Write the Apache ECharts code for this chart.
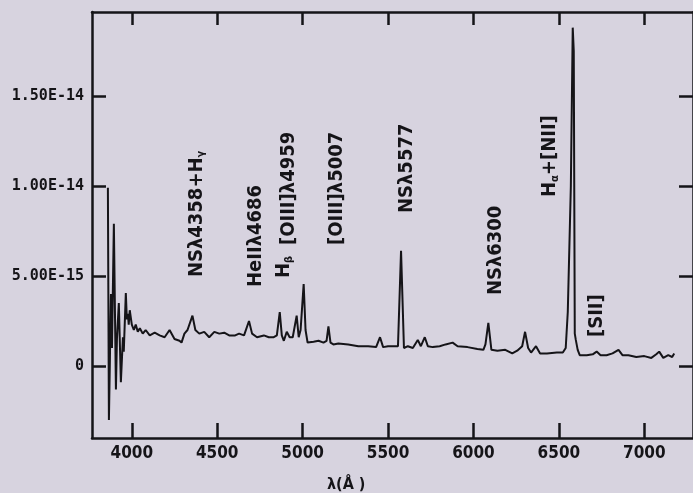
<!DOCTYPE html>
<html>
<head>
<meta charset="utf-8">
<script src="https://cdn.jsdelivr.net/npm/echarts@6/dist/echarts.min.js"></script>
<style>
html,body{margin:0;padding:0;background:#d7d3df;}
#chart{width:693px;height:493px;}
</style>
</head>
<body>
<div id="chart"></div>
<script>
// Wavelength (Angstrom)
var lambda = [3860,3866,3872,3878,3884,3895,3907,3913,3924,3936,3948,3953,3965,3971,3977,3982,3988,4000,4012,4023,4035,4047,4064,4081,4105,4134,4163,4192,4221,4250,4279,4291,4308,4326,4355,4372,4395,4424,4453,4483,4512,4541,4570,4605,4628,4657,4686,4704,4733,4773,4802,4831,4849,4866,4878,4890,4907,4924,4942,4965,4977,4988,5006,5017,5029,5064,5093,5122,5140,5151,5163,5180,5209,5267,5326,5384,5430,5453,5471,5500,5529,5558,5576,5593,5616,5645,5674,5692,5715,5733,5762,5802,5837,5878,5907,5965,6023,6058,6070,6087,6105,6140,6186,6227,6256,6285,6302,6320,6337,6366,6390,6430,6488,6523,6540,6552,6570,6581,6587,6593,6599,6610,6622,6663,6698,6721,6744,6779,6814,6849,6872,6907,6953,7000,7041,7070,7087,7111,7140,7163,7175];
// Flux in units of 1E-15
var flux = [9.9,-3.0,0.5,4.0,1.0,7.9,-1.3,1.5,3.5,-0.9,1.6,0.8,4.05,2.6,2.9,2.3,3.1,2.3,2.0,2.3,1.9,2.1,1.8,2.0,1.7,1.85,1.7,1.6,2.0,1.5,1.4,1.3,1.8,2.0,2.8,2.0,1.8,1.9,1.6,1.9,1.8,1.85,1.7,1.7,1.8,1.7,2.5,1.8,1.6,1.7,1.6,1.6,1.7,3.0,1.7,1.4,1.9,1.6,1.6,2.8,1.6,2.0,4.55,2.0,1.3,1.35,1.4,1.3,1.4,2.2,1.3,1.2,1.25,1.2,1.1,1.1,1.05,1.6,1.05,1.1,1.1,1.1,6.4,1.0,1.1,1.0,1.45,1.1,1.6,1.1,1.05,1.1,1.2,1.3,1.1,1.05,0.95,0.9,1.2,2.4,0.9,0.85,0.9,0.7,0.85,1.1,1.9,1.0,0.75,1.1,0.7,0.7,0.75,0.75,1.0,3.0,10.0,18.8,17.5,1.8,1.45,0.9,0.6,0.6,0.65,0.8,0.6,0.6,0.7,0.9,0.6,0.6,0.5,0.55,0.45,0.65,0.8,0.45,0.6,0.5,0.7];

var xTicks = [4000,4500,5000,5500,6000,6500,7000];
var xTickLabels = ['4000','4500','5000','5500','6000','6500','7000'];
var yTicks = [0,5,10,15];
var yTickLabels = ['0','5.00E-15','1.00E-14','1.50E-14'];

// Line annotations (rich text) and anchors (wavelength, flux at text start)
var annText = ['NSλ4358+H{s|γ}','HeIIλ4686','H{s|β}','[OIII]λ4959','[OIII]λ5007','NSλ5577','NSλ6300','H{s|α}+[NII]','[SII]'];
var annLambda = [4378,4727,4892,4921,5198,5610,6128,6446,6721];
var annFlux = [4.94,4.39,4.89,6.72,6.72,8.5,3.94,9.39,1.61];

var spectrum = lambda.map(function(l,i){return [l, flux[i]];});
var annData = annText.map(function(t,i){return {value:[annLambda[i], annFlux[i]], name:t};});

var ink = '#151418';
var cond = "'DejaVu Sans Condensed',sans-serif";
var chart = echarts.init(document.getElementById('chart'), null, {renderer:'canvas'});
chart.setOption({
  backgroundColor: '#d7d3df',
  animation: false,
  title: {
    text: 'λ(Å )', left: 322, top: 472,
    textStyle: {fontFamily: cond, fontWeight: 'bold', fontSize: 16, color: ink}
  },
  grid: {left: 92, top: 12, right: -4, bottom: 55},
  xAxis: [{
    type: 'value', min: 3767, max: 7285,
    axisLine: {onZero: false, lineStyle: {color: ink, width: 2.5}},
    axisTick: {inside: true, length: 15, lineStyle: {color: ink, width: 2.5}, customValues: xTicks},
    axisLabel: {customValues: xTicks, margin: 7, color: ink, fontFamily: cond, fontWeight: 'bold', fontSize: 17,
      formatter: function(v){ var i = xTicks.indexOf(v); return i >= 0 ? xTickLabels[i] : ''; }},
    splitLine: {show: false}
  },{
    type: 'value', min: 3767, max: 7285, position: 'top',
    axisLine: {onZero: false, lineStyle: {color: ink, width: 2.5}},
    axisTick: {inside: true, length: 13, lineStyle: {color: ink, width: 2.5}, customValues: xTicks},
    axisLabel: {show: false}, splitLine: {show: false}
  }],
  yAxis: [{
    type: 'value', min: -4, max: 19.67,
    axisLine: {onZero: false, lineStyle: {color: ink, width: 2.5}},
    axisTick: {inside: true, length: 14, lineStyle: {color: ink, width: 2.5}, customValues: yTicks},
    axisLabel: {customValues: yTicks, margin: 8, color: ink, fontFamily: "'DejaVu Sans Mono',monospace", fontWeight: 'bold', fontSize: 15,
      formatter: function(v){ var i = yTicks.indexOf(v); return i >= 0 ? yTickLabels[i] : ''; }},
    splitLine: {show: false}
  },{
    type: 'value', min: -4, max: 19.67, position: 'right',
    axisLine: {onZero: false, lineStyle: {color: ink, width: 2.5}},
    axisTick: {inside: true, length: 14, lineStyle: {color: ink, width: 2.5}, customValues: yTicks},
    axisLabel: {show: false}, splitLine: {show: false}
  }],
  series: [{
    type: 'line', data: spectrum, showSymbol: false, symbol: 'none',
    lineStyle: {color: ink, width: 2}, z: 3
  },{
    type: 'scatter', data: annData, symbolSize: 0, silent: true,
    itemStyle: {opacity: 1},
    label: {
      show: true, position: 'inside', rotate: 90, align: 'left', verticalAlign: 'middle',
      formatter: function(p){ return p.name; },
      color: ink, fontFamily: cond, fontWeight: 'bold', fontSize: 20, textBorderWidth: 0,
      rich: {s: {fontSize: 11, fontWeight: 'bold', verticalAlign: 'bottom', padding: [10,0,0,0], color: ink, fontFamily: cond}}
    }
  }]
});
</script>
</body>
</html>
